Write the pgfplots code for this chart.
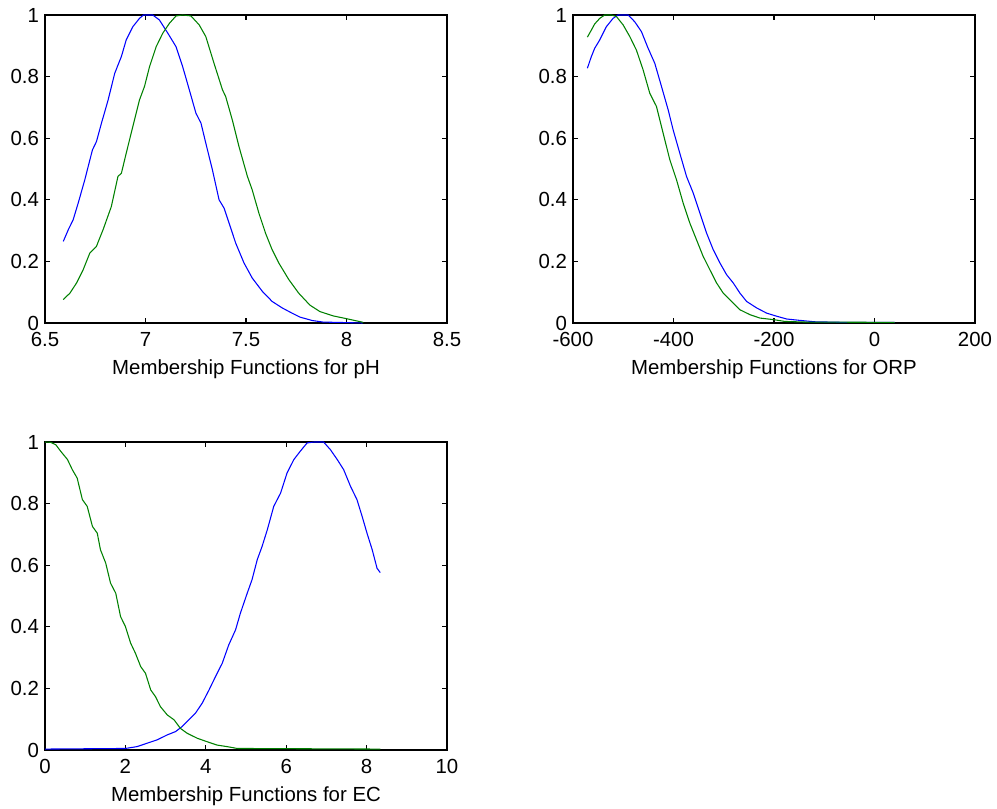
\documentclass[border=0pt]{standalone}
\usepackage{fontspec}
\setmainfont{Liberation Sans}
\usepackage{pgfplots}
\pgfplotsset{compat=1.18}

\definecolor{mblue}{RGB}{0,0,255}
\definecolor{mgreen}{RGB}{0,128,0}

\pgfplotsset{
  mfig/.style={
    scale only axis,
    width=301.5pt, height=231pt,
    anchor=north west,
    axis line style={black, line width=1.1pt},
    tick align=inside,
    major tick length=3.5pt,
    tick style={black, line width=0.9pt},
    ymin=0, ymax=1,
    ytick={0,0.2,0.4,0.6,0.8,1},
    yticklabels={0,0.2,0.4,0.6,0.8,1},
    ticklabel style={font=\fontsize{15.3}{18}\selectfont},
    label style={font=\fontsize{15.3}{18}\selectfont},
    xticklabel style={yshift=-3.5pt},
    yticklabel style={xshift=-1pt},
    xlabel style={yshift=-3pt},
    clip=false,
    every axis plot/.append style={line width=0.8pt, no marks},
  },
}

\begin{document}
\begin{tikzpicture}
\path[use as bounding box] (0pt,0pt) rectangle (747.75pt,-606.75pt);

% pH
\begin{axis}[mfig, at={(33.75pt,-11.25pt)},
  xmin=6.5, xmax=8.5,
  xtick={6.5,7,7.5,8,8.5}, xticklabels={6.5,7,7.5,8,8.5},
  xlabel={Membership Functions for pH}]
\addplot[mblue] coordinates {
(6.591,0.265) (6.616,0.303) (6.640,0.335) (6.665,0.389) (6.698,0.465)
(6.736,0.562) (6.756,0.589) (6.781,0.649) (6.814,0.724) (6.847,0.811)
(6.880,0.865) (6.904,0.919) (6.937,0.962) (6.970,0.989) (6.990,1.0)
(7.036,1.0) (7.069,0.984) (7.111,0.941) (7.152,0.897) (7.185,0.832)
(7.218,0.757) (7.251,0.681) (7.276,0.649) (7.300,0.584) (7.333,0.497)
(7.366,0.400) (7.391,0.373) (7.416,0.324) (7.449,0.259) (7.490,0.195)
(7.531,0.146) (7.581,0.103) (7.630,0.070) (7.680,0.049) (7.729,0.032)
(7.769,0.019) (7.830,0.008) (7.883,0.003) (7.950,0.002) (8.080,0.0)
};
\addplot[mgreen] coordinates {
(6.591,0.076) (6.624,0.097) (6.657,0.130) (6.690,0.173) (6.723,0.227)
(6.756,0.249) (6.789,0.303) (6.830,0.378) (6.863,0.476) (6.880,0.486)
(6.904,0.551) (6.937,0.638) (6.970,0.724) (6.995,0.768) (7.020,0.832)
(7.053,0.897) (7.086,0.941) (7.119,0.973) (7.152,0.997) (7.185,1.0)
(7.226,0.997) (7.267,0.968) (7.300,0.930) (7.341,0.843) (7.383,0.757)
(7.399,0.735) (7.432,0.659) (7.465,0.573) (7.507,0.476) (7.531,0.432)
(7.564,0.357) (7.597,0.292) (7.630,0.238) (7.663,0.195) (7.713,0.141)
(7.762,0.097) (7.818,0.058) (7.868,0.037) (7.934,0.023) (7.993,0.015)
(8.042,0.008) (8.084,0.002)
};
\end{axis}

% ORP
\begin{axis}[mfig, at={(429.75pt,-11.25pt)},
  xmin=-600, xmax=200,
  xtick={-600,-400,-200,0,200}, xticklabels={-600,-400,-200,0,200},
  xlabel={Membership Functions for ORP}]
\addplot[mblue] coordinates {
(-571.4,0.827) (-563.5,0.865) (-556.8,0.892) (-546.8,0.919) (-533.6,0.962)
(-520.3,0.989) (-510.3,1.0) (-490.4,1.0) (-477.1,0.978) (-463.8,0.946)
(-450.5,0.892) (-437.2,0.843) (-423.9,0.768) (-410.6,0.692) (-400.7,0.627)
(-387.4,0.551) (-374.1,0.476) (-360.8,0.422) (-347.5,0.357) (-334.2,0.292)
(-320.9,0.238) (-307.6,0.195) (-294.4,0.157) (-281.1,0.130) (-267.8,0.097)
(-254.5,0.070) (-234.6,0.049) (-214.6,0.032) (-194.7,0.022) (-174.8,0.013)
(-151.5,0.009) (-120.0,0.004) (-60.0,0.002) (40.0,0.002)
};
\addplot[mgreen] coordinates {
(-571.4,0.928) (-563.5,0.951) (-556.8,0.971) (-546.8,0.989) (-536.9,1.0)
(-523.6,1.0) (-513.6,0.995) (-500.3,0.968) (-487.0,0.930) (-473.8,0.886)
(-460.5,0.822) (-447.2,0.746) (-433.9,0.703) (-420.6,0.616) (-407.3,0.530)
(-394.0,0.465) (-380.7,0.389) (-367.4,0.324) (-354.2,0.270) (-340.9,0.216)
(-327.6,0.173) (-314.3,0.130) (-301.0,0.097) (-284.4,0.070) (-267.8,0.043)
(-247.8,0.027) (-227.9,0.016) (-201.3,0.011) (-178.1,0.005) (-134.9,0.003)
(40.0,0.002)
};
\end{axis}

% EC
\begin{axis}[mfig, at={(33.75pt,-331.5pt)},
  xmin=0, xmax=10,
  xtick={0,2,4,6,8,10}, xticklabels={0,2,4,6,8,10},
  xlabel={Membership Functions for EC}]
\addplot[mblue] coordinates {
(0,0.003) (2.00,0.005) (2.29,0.011) (2.54,0.022) (2.79,0.033)
(3.04,0.049) (3.25,0.060) (3.41,0.076) (3.58,0.098) (3.74,0.119)
(3.91,0.152) (4.08,0.195) (4.24,0.238) (4.41,0.282) (4.57,0.341)
(4.74,0.390) (4.86,0.444) (5.03,0.509) (5.15,0.553) (5.28,0.618)
(5.40,0.661) (5.53,0.715) (5.69,0.791) (5.86,0.834) (6.02,0.899)
(6.19,0.943) (6.35,0.970) (6.52,0.997) (6.69,1.0) (6.93,1.0)
(7.10,0.975) (7.27,0.943) (7.43,0.910) (7.60,0.856) (7.76,0.813)
(7.89,0.758) (8.01,0.704) (8.14,0.650) (8.26,0.590) (8.34,0.576)
};
\addplot[mgreen] coordinates {
(0.0,1.0) (0.14,0.999) (0.27,0.991) (0.39,0.970) (0.56,0.943)
(0.68,0.910) (0.80,0.883) (0.93,0.813) (1.05,0.791) (1.18,0.726)
(1.30,0.704) (1.38,0.650) (1.51,0.607) (1.63,0.542) (1.76,0.509)
(1.88,0.433) (2.00,0.401) (2.13,0.347) (2.25,0.314) (2.38,0.271)
(2.50,0.249) (2.63,0.195) (2.75,0.173) (2.87,0.141) (3.04,0.114)
(3.21,0.098) (3.37,0.070) (3.54,0.054) (3.79,0.038) (4.03,0.027)
(4.28,0.016) (4.53,0.011) (4.78,0.005) (8.34,0.003)
};
\end{axis}
\end{tikzpicture}
\end{document}
